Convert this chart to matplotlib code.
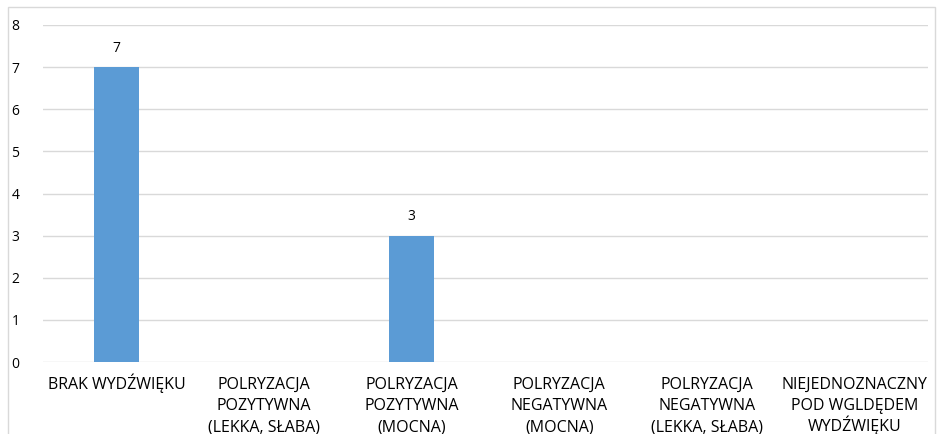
import matplotlib
matplotlib.use("Agg")
import matplotlib.pyplot as plt
from matplotlib.patches import Rectangle

categories = ["BRAK WYDŹWIĘKU", "POLRYZACJA\nPOZYTYWNA\n(LEKKA, SŁABA)", "POLRYZACJA\nPOZYTYWNA\n(MOCNA)",
              "POLRYZACJA\nNEGATYWNA\n(MOCNA)", "POLRYZACJA\nNEGATYWNA\n(LEKKA, SŁABA)",
              "NIEJEDNOZNACZNY\nPOD WGLDĘDEM\nWYDŹWIĘKU"]
values = [7, 0, 3, 0, 0, 0]
yticks = [0, 1, 2, 3, 4, 5, 6, 7, 8]

plt.rcParams['font.family'] = ['Open Sans', 'DejaVu Sans']
fig = plt.figure(figsize=(9.42, 4.34), dpi=100)
ax = fig.add_axes([43/942, 1-362/434, (928-43)/942, (362-25)/434])

x = list(range(len(categories)))
bars = ax.bar(x, values, width=0.305, color="#5b9bd5", zorder=3)
for xi, v in zip(x, values):
    if v:
        ax.text(xi, v + 0.27, str(v), ha="center", va="bottom", fontsize=10, color="#000000")

ax.set_xlim(-0.5, len(categories) - 0.5)
ax.set_ylim(0, 8)
ax.set_yticks(yticks)
ax.set_yticklabels([str(t) for t in yticks], fontsize=10)
ax.set_xticks(x)
ax.set_xticklabels([""] * len(categories))
# category labels, line by line with fixed baseline spacing
line_px = 21.0
first_px = 27.0
for xi, lab in zip(x, categories):
    for i, line in enumerate(lab.split("\n")):
        off_pt = -(first_px + i * line_px) * 72 / 100
        ax.annotate(line, xy=(xi, 0), xycoords=("data", "axes fraction"),
                    xytext=(0, off_pt), textcoords="offset points",
                    ha="center", va="baseline", fontsize=11.5, color="#000000",
                    annotation_clip=False)

ax.grid(axis="y", color="#d9d9d9", linewidth=1, zorder=0)
for s in ax.spines.values():
    s.set_visible(False)
ax.tick_params(axis="both", length=0, colors="#000000")
ax.tick_params(axis="y", pad=17)

fig.patches.append(Rectangle((8/942, -0.01), (935-8)/942, 1 - 7/434 + 0.01, transform=fig.transFigure,
                             fill=False, edgecolor="#d9d9d9", linewidth=1))

fig.savefig("out.png", dpi=100)
